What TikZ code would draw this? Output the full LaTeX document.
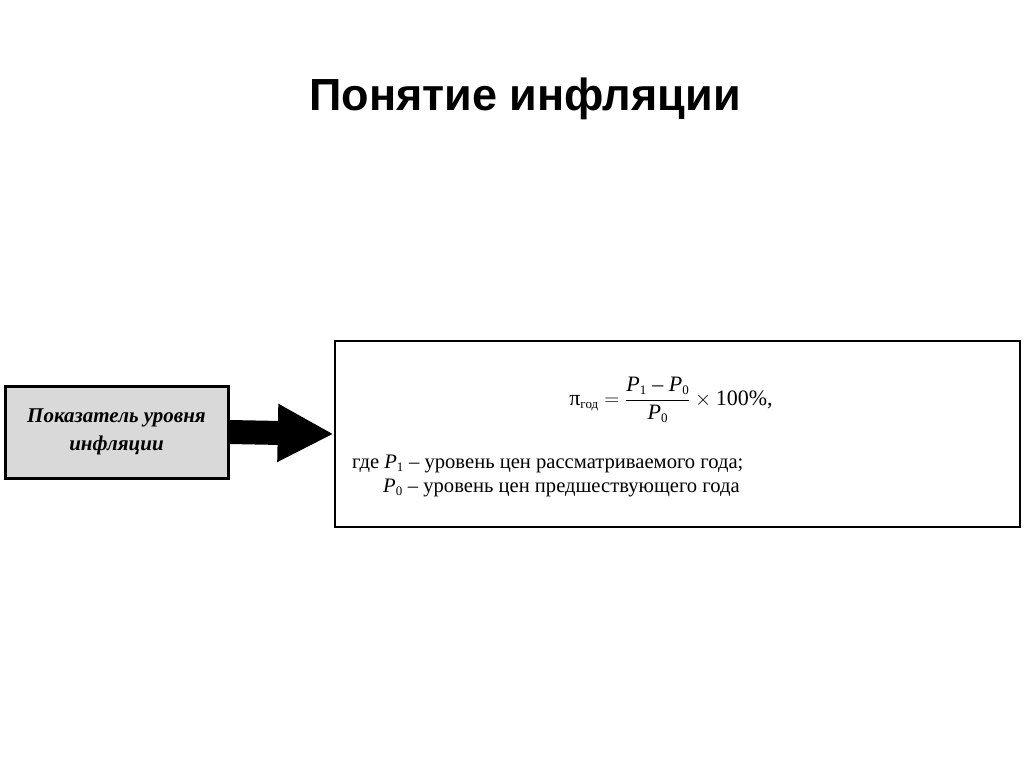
\documentclass[tikz,border=0pt]{standalone}
\usepackage{fontspec}
\setmainfont{Liberation Serif}
\newfontfamily\titlefont{Liberation Sans}
\usetikzlibrary{arrows.meta}
\tikzset{
  titletext/.style={font=\titlefont\bfseries\fontsize{45}{52}\selectfont, anchor=base},
  graybox/.style={draw=black, line width=3pt, fill=black!15, minimum width=223pt, minimum height=92pt, inner sep=0pt,
    font=\bfseries\itshape\fontsize{21}{28}\selectfont, align=center},
  whitebox/.style={draw=black, line width=2.5pt, fill=white, minimum width=685pt, minimum height=186pt, inner sep=0pt},
  bigarrow/.style={line width=24pt, -{Triangle[length=56pt 0 0, width=54pt 0 0]}, shorten >=0pt},
  bodytext/.style={font=\fontsize{20.6}{24}\selectfont, anchor=base west, inner sep=0pt},
}
\newcommand{\Pit}[1]{\hbox{\itshape P}_{\hbox{\fontsize{13}{14}\selectfont #1}}}
\begin{document}
\begin{tikzpicture}[x=1pt,y=-1pt]
  \useasboundingbox (0,0) rectangle (1024,767);
  \fill[white] (0,0) rectangle (1024,767);
  \node[titletext] (title) at (525,111) {Понятие инфляции};
  \node[graybox] (lbox) at (116.5,432) {Показатель уровня\\инфляции};
  \node[whitebox] (rbox) at (677.5,434) {};
  \draw[bigarrow] (lbox.east) -- (rbox.west);
  \node[inner sep=0pt, font=\fontsize{22}{26}\selectfont] (formula) at (671,400)
    {$\displaystyle\hbox{π}_{\hbox{\fontsize{13}{14}\selectfont год}} = \frac{\Pit{1}\hbox{ – }\Pit{0}}{\Pit{0}}\times\hbox{100\%,}$};
  \node[bodytext] (line1) at (352,468) {где $\Pit{1}$ – уровень цен рассматриваемого года;};
  \node[bodytext] (line2) at (383,492) {$\Pit{0}$ – уровень цен предшествующего года};
\end{tikzpicture}
\end{document}
